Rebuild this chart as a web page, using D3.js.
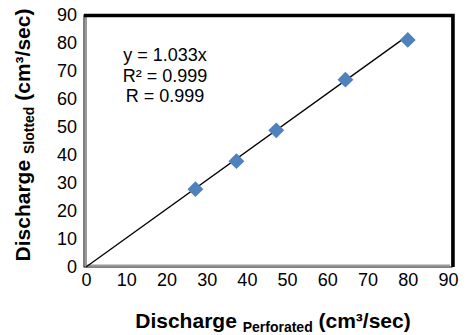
<!DOCTYPE html>
<html>
<head>
<meta charset="utf-8">
<script src="https://cdn.jsdelivr.net/npm/d3@7"></script>
<style>
  body { margin: 0; background: #fff; }
  text { font-family: Arial, "Liberation Sans", sans-serif; }
</style>
</head>
<body>
<div id="chart"></div>
<script>
// data
const perforated = [27.2, 37.4, 47.3, 64.5, 80.0];
const slotted = [27.8, 37.8, 48.8, 66.9, 81.1];
const ticks = [0, 10, 20, 30, 40, 50, 60, 70, 80, 90];
const slope = 1.033;
const statLines = ["y = 1.033x", "R² = 0.999", "R = 0.999"];

const width = 467, height = 335;
const box = { left: 84, top: 15, right: 452, bottom: 267 };

const svg = d3.select('#chart').append('svg')
    .attr('width', width)
    .attr('height', height);

const x = d3.scaleLinear().domain([0, 90]).range([86, 448]);
const y = d3.scaleLinear().domain([0, 90]).range([267, 15]);

// frame (gray with black shadow like the original)
svg.append('rect')
    .attr('x', box.left).attr('y', box.top)
    .attr('width', box.right - box.left).attr('height', box.bottom - box.top)
    .attr('fill', 'none').attr('stroke', '#000').attr('stroke-width', 1);
svg.append('path')
    .attr('d', `M${box.left + 2},${box.top + 2} V${box.bottom - 1.5} H${box.right - 2}`)
    .attr('fill', 'none').attr('stroke', '#9a9a9a').attr('stroke-width', 2);
svg.append('path')
    .attr('d', `M${box.left},${box.top + 0.5} H${box.right + 1} V${box.bottom}`)
    .attr('fill', 'none').attr('stroke', '#000').attr('stroke-width', 3.5);

// axes (labels only, no tick marks)
const xAxis = svg.append('g')
    .attr('transform', `translate(0,${box.bottom})`)
    .call(d3.axisBottom(x).tickValues(ticks).tickSize(0).tickPadding(6));
const yAxis = svg.append('g')
    .attr('transform', `translate(${box.left},0)`)
    .call(d3.axisLeft(y).tickValues(ticks).tickSize(0).tickPadding(7));
[xAxis, yAxis].forEach(a => {
    a.select('.domain').remove();
    a.selectAll('text')
        .attr('font-size', 18)
        .attr('font-family', 'Arial, "Liberation Sans", sans-serif')
        .attr('fill', '#000');
});

// trend line
const xMax = d3.max(perforated);
svg.append('line')
    .attr('x1', x(0)).attr('y1', y(0))
    .attr('x2', x(xMax)).attr('y2', y(slope * xMax))
    .attr('stroke', '#000').attr('stroke-width', 1.3);

// points
svg.append('g')
    .selectAll('path')
    .data(perforated.map((d, i) => [d, slotted[i]]))
    .enter().append('path')
    .attr('d', d3.symbol().type(d3.symbolDiamond2).size(160))
    .attr('transform', d => `translate(${x(d[0])},${y(d[1])})`)
    .attr('fill', '#4F81BD');

// regression stats
svg.append('g')
    .selectAll('text')
    .data(statLines)
    .enter().append('text')
    .attr('x', 165)
    .attr('y', (d, i) => 61 + i * 20.5)
    .attr('text-anchor', 'middle')
    .attr('font-size', 18)
    .text(d => d);

// axis titles
const xTitle = svg.append('text')
    .attr('x', 273).attr('y', 328)
    .attr('text-anchor', 'middle')
    .attr('font-size', 21).attr('font-weight', 'bold');
xTitle.append('tspan').text('Discharge ');
xTitle.append('tspan').attr('font-size', 14).attr('dy', 4).text('Perforated');
xTitle.append('tspan').attr('dy', -4).text(' (cm³/sec)');

const yTitle = svg.append('text')
    .attr('transform', 'translate(30,135) rotate(-90)')
    .attr('text-anchor', 'middle')
    .attr('font-size', 21).attr('font-weight', 'bold');
yTitle.append('tspan').text('Discharge ');
yTitle.append('tspan').attr('font-size', 14).attr('dy', 4).text('Slotted');
yTitle.append('tspan').attr('dy', -4).text(' (cm³/sec)');
</script>
</body>
</html>
